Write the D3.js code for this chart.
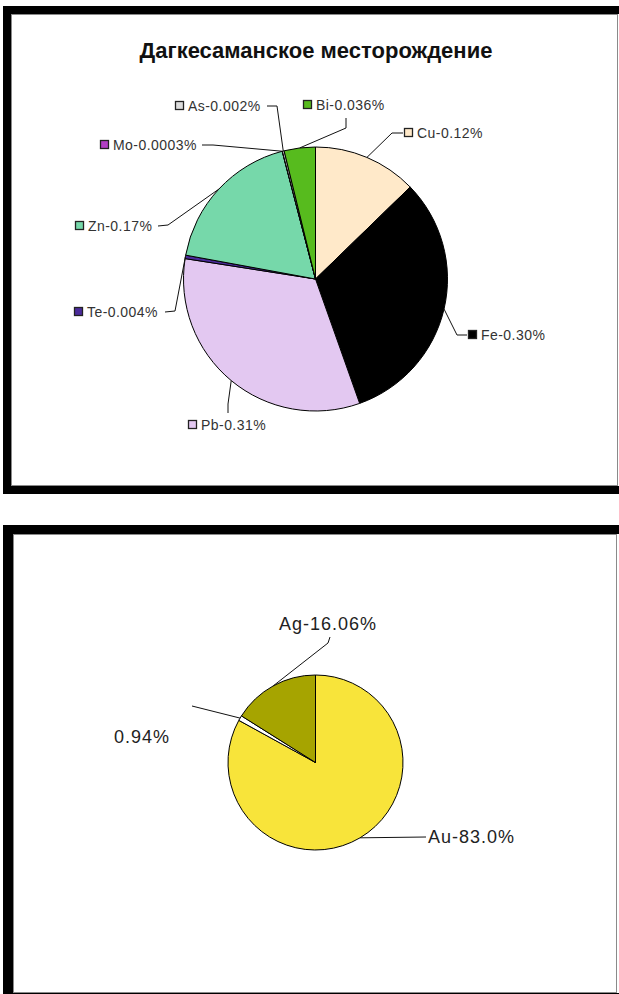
<!DOCTYPE html>
<html>
<head>
<meta charset="utf-8">
<script src="https://cdn.jsdelivr.net/npm/d3@7"></script>
<style>
  html, body { margin: 0; padding: 0; background: #fff; }
  svg { display: block; }
</style>
</head>
<body>
<svg id="chart" width="619" height="994"></svg>
<script>
// Top chart: element content of the Dagkesaman deposit
const title = "Дагкесаманское месторождение";
const elements = ["Cu", "Fe", "Pb", "Te", "Zn", "Mo", "As", "Bi"];
const contents = [0.12, 0.30, 0.31, 0.004, 0.17, 0.0003, 0.002, 0.036];
const contentLabels = ["0.12%", "0.30%", "0.31%", "0.004%", "0.17%", "0.0003%", "0.002%", "0.036%"];
const elementColors = ["#ffe9c9", "#000000", "#e3c8f1", "#4b2b9b", "#76d8aa", "#b23fc4", "#dcdcdc", "#57bb1e"];

// Bottom chart: precious metals split
const metals = ["Au", "", "Ag"];
const metalShares = [83.0, 0.94, 16.06];
const metalLabels = ["Au-83.0%", "0.94%", "Ag-16.06%"];
const metalColors = ["#f8e43a", "#ffffff", "#a6a400"];

const svg = d3.select("#chart");

// ---- panel frames (thick black edge top/left/bottom, thin grey inner edge)
function panel(x0, y0, x1, y1, ix, iy, ix1, iy1) {
  svg.append("rect").attr("x", x0).attr("y", y0).attr("width", x1 - x0).attr("height", y1 - y0).attr("fill", "#000");
  svg.append("rect").attr("x", ix).attr("y", iy).attr("width", 619 - ix).attr("height", iy1 - iy).attr("fill", "#fff");
  svg.append("rect").attr("x", ix + 0.5).attr("y", iy + 0.5).attr("width", ix1 - ix - 1).attr("height", iy1 - iy - 1)
    .attr("fill", "none").attr("stroke", "#8a8a8a").attr("stroke-width", 1);
}
panel(3, 6, 619, 494, 11, 14, 618, 486);
panel(3, 525, 619, 994, 13, 534, 617, 993);

// ---- title
svg.append("text")
  .attr("x", 316).attr("y", 58)
  .attr("text-anchor", "middle")
  .attr("font-family", "Arial, 'Liberation Sans', sans-serif")
  .attr("font-weight", "bold")
  .attr("font-size", 22)
  .attr("fill", "#111")
  .text(title);

// ---- top pie
const topCenter = { x: 315.5, y: 279 };
const topR = 132;
const pie = d3.pie().sort(null).value(d => d.value);
const topData = elements.map((e, i) => ({ name: e, value: contents[i], label: e + "-" + contentLabels[i], color: elementColors[i] }));
const topArcs = pie(topData);
const arcTop = d3.arc().innerRadius(0).outerRadius(topR);

const gTop = svg.append("g").attr("transform", `translate(${topCenter.x},${topCenter.y})`);
gTop.selectAll("path").data(topArcs).join("path")
  .attr("d", arcTop)
  .attr("fill", d => d.data.color)
  .attr("stroke", "#000")
  .attr("stroke-width", 1)
  .attr("stroke-linejoin", "round");

// label placement: key square left edge, vertical centre, leader start and elbow
const topLayout = {
  Cu: { kx: 404, cy: 133, lead: [[403, 133], [392, 133]] },
  Fe: { kx: 468, cy: 335, lead: [[467, 335], [457, 335]] },
  Pb: { kx: 188, cy: 425, lead: [[228, 413], [228, 404]] },
  Te: { kx: 74,  cy: 312, lead: [[165, 312], [175, 311]] },
  Zn: { kx: 75,  cy: 226, lead: [[158, 226], [168, 225]] },
  Mo: { kx: 100, cy: 145, lead: [[202, 145], [213, 145]] },
  As: { kx: 175, cy: 106, lead: [[267, 106], [277, 106]] },
  Bi: { kx: 303, cy: 105, lead: [[346, 118], [346, 128]] }
};

function edgePoint(a, cx, cy, r) {
  const m = (a.startAngle + a.endAngle) / 2;
  return [cx + r * Math.sin(m), cy - r * Math.cos(m)];
}

const line = d3.line();
topArcs.forEach(a => {
  const L = topLayout[a.data.name];
  const pts = L.lead.concat([edgePoint(a, topCenter.x, topCenter.y, topR)]);
  svg.append("path").attr("d", line(pts)).attr("fill", "none").attr("stroke", "#111").attr("stroke-width", 1);
  svg.append("rect")
    .attr("x", L.kx + 0.5).attr("y", L.cy - 4.5).attr("width", 8).attr("height", 8)
    .attr("fill", a.data.color).attr("stroke", "#222").attr("stroke-width", 1.3);
  svg.append("text")
    .attr("x", L.kx + 13).attr("y", L.cy + 5)
    .attr("font-family", "Arial, 'Liberation Sans', sans-serif")
    .attr("font-size", 14)
    .attr("letter-spacing", 0.45)
    .attr("fill", "#333")
    .text(a.data.label);
});

// ---- bottom pie
const botCenter = { x: 315.5, y: 762.5 };
const botR = 87.5;
const botData = metals.map((m, i) => ({ name: m, value: metalShares[i], label: metalLabels[i], color: metalColors[i] }));
const botArcs = pie(botData);
const arcBot = d3.arc().innerRadius(0).outerRadius(botR);

const gBot = svg.append("g").attr("transform", `translate(${botCenter.x},${botCenter.y})`);
gBot.selectAll("path").data(botArcs).join("path")
  .attr("d", arcBot)
  .attr("fill", d => d.data.color)
  .attr("stroke", "#000")
  .attr("stroke-width", 1)
  .attr("stroke-linejoin", "round");

const botLayout = [
  { tx: 428, ty: 843, lead: [[426, 837]] },
  { tx: 114, ty: 743, lead: [[192, 706]] },
  { tx: 279, ty: 630, lead: [[330, 637], [328, 643]] }
];

botArcs.forEach((a, i) => {
  const L = botLayout[i];
  const pts = L.lead.concat([edgePoint(a, botCenter.x, botCenter.y, botR)]);
  svg.append("path").attr("d", line(pts)).attr("fill", "none").attr("stroke", "#111").attr("stroke-width", 1);
  svg.append("text")
    .attr("x", L.tx).attr("y", L.ty)
    .attr("font-family", "Arial, 'Liberation Sans', sans-serif")
    .attr("font-size", 18)
    .attr("letter-spacing", 1)
    .attr("fill", "#222")
    .text(a.data.label);
});
</script>
</body>
</html>
